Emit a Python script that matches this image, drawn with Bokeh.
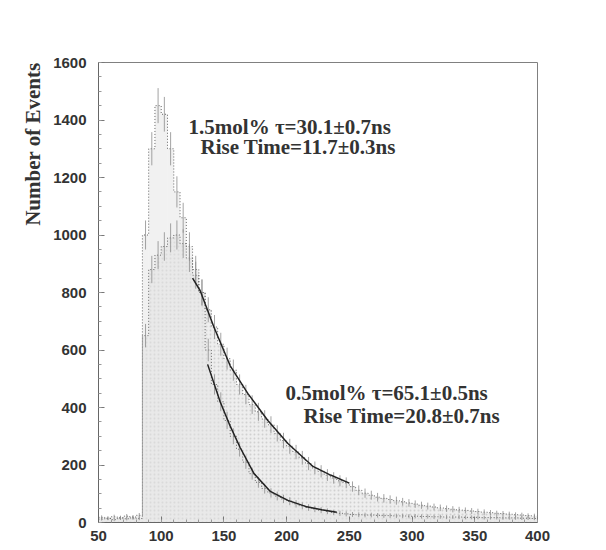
import numpy as np
from bokeh.plotting import figure
from bokeh.models import FixedTicker, Label, Title
from bokeh.embed import file_html
from bokeh.resources import INLINE

# ---- data ----
bin_left = list(range(50, 400, 5))   # 5 ns bins, 50..400
bin_width = 5

# 1.5 mol% histogram (fast decay)
counts_15 = [18, 15, 20, 17, 22, 19, 25,
             1000, 1300, 1450, 1420, 1300, 1150, 1060, 960, 880, 800, 600, 480, 420,
             355, 300, 255, 210, 170, 140, 118, 103, 92, 82, 74, 65, 58, 52, 47, 43,
             39, 35, 32, 30,
             28, 27, 26, 26, 25, 24, 24, 23, 23, 22,
             22, 21, 21, 20, 20, 19, 19, 19, 18, 18, 18, 17, 17, 17, 16, 16, 16, 15, 15, 14]

# 0.5 mol% histogram (slow decay)
counts_05 = [12, 14, 10, 15, 13, 16, 14,
             650, 880, 930, 960, 990, 1000, 970, 920, 860, 800, 740, 680, 620,
             570, 530, 480, 445, 410, 385, 360, 340, 310, 285, 265, 245, 225, 205, 190, 178,
             165, 155, 145, 138,
             125, 112, 102, 95, 88, 84, 80, 76, 72, 68,
             64, 60, 57, 54, 51, 48, 46, 44, 42, 40, 38, 36, 34, 32, 31, 29, 27, 26, 24, 23]

# fitted curves, points
fit05_x = [125, 131, 142, 155, 169, 185, 201, 221, 235, 250]
fit05_y = [850, 807, 680, 545, 449, 355, 275, 195, 165, 137]
fit15_x = [137, 147, 155, 163, 174, 187, 201, 215, 228, 240]
fit15_y = [550, 420, 335, 260, 170, 108, 77, 56, 44, 36]

ERR_SCALE = 1.6

x_ticks = [50, 100, 150, 200, 250, 300, 350, 400]
y_ticks = [0, 200, 400, 600, 800, 1000, 1200, 1400, 1600]

y_title = "Number of Events"
label_15 = ["1.5mol% \u03c4=30.1\u00b10.7ns", "Rise Time=11.7\u00b10.3ns"]
label_05 = ["0.5mol% \u03c4=65.1\u00b10.5ns", "Rise Time=20.8\u00b10.7ns"]

# ---- figure ----
p = figure(width=606, height=550, x_range=(50, 400), y_range=(0, 1600),
           output_backend="svg", toolbar_location=None,
           min_border_left=98, min_border_right=69, min_border_top=62, min_border_bottom=28)
p.xgrid.visible = False
p.ygrid.visible = False
p.outline_line_color = "#808080"
p.outline_line_width = 1
p.background_fill_color = "white"
p.border_fill_color = "white"

left = np.array(bin_left, dtype=float)
right = left + bin_width
c15 = np.array(counts_15, dtype=float)
c05 = np.array(counts_05, dtype=float)

# fills
p.quad(left=left, right=right, bottom=0, top=c05, fill_color="#dedede", fill_alpha=0.5,
       line_color=None, hatch_pattern="dot", hatch_color="#8a8a8a", hatch_alpha=0.3,
       hatch_scale=4, hatch_weight=0.8)
p.quad(left=left, right=right, bottom=0, top=c15, fill_color="#e4e4e4", fill_alpha=0.5,
       line_color=None)

# dotted step outlines
edges = np.append(left, right[-1])
p.step(x=edges, y=np.append(c05, c05[-1]), mode="after", line_color="#666666",
       line_width=1, line_dash="1 2")
p.step(x=edges, y=np.append(c15, c15[-1]), mode="after", line_color="#666666",
       line_width=1, line_dash="1 2")

# error bars
centers = left + bin_width / 2
for c in (c05, c15):
    err = ERR_SCALE * np.sqrt(c)
    p.segment(x0=centers, y0=c - err, x1=centers, y1=c + err, line_color="#8c8c8c",
              line_width=0.8)

# fit curves
p.line(fit05_x, fit05_y, line_color="#222222", line_width=1.5)
p.line(fit15_x, fit15_y, line_color="#222222", line_width=1.5)

# axes
for ax in (p.xaxis[0], p.yaxis[0]):
    ax.major_tick_in = 6
    ax.major_tick_out = 0
    ax.minor_tick_in = 3
    ax.minor_tick_out = 0
    ax.axis_line_color = "#666666"
    ax.major_tick_line_color = "#777777"
    ax.minor_tick_line_color = "#999999"
    ax.major_label_text_font = "Liberation Sans"
    ax.major_label_text_font_style = "bold"
    ax.major_label_text_font_size = "15px"
    ax.major_label_text_color = "#333333"

p.xaxis[0].ticker = FixedTicker(ticks=x_ticks, minor_ticks=list(range(50, 401, 10)))
p.yaxis[0].ticker = FixedTicker(ticks=y_ticks, minor_ticks=list(range(0, 1601, 50)))
p.xaxis[0].major_label_standoff = 8
p.yaxis[0].major_label_standoff = 12

# y title near the top of the axis, as in the reference
p.add_layout(Title(text=y_title, align="right", text_font="Liberation Serif",
                   text_font_style="bold", text_font_size="21px",
                   text_color="#333333", standoff=12), "left")

def add_text(x, y, s):
    p.add_layout(Label(x=x, y=y, text=s, text_font="Liberation Serif",
                       text_font_style="bold", text_font_size="21px",
                       text_color="#333333", text_align="left", text_baseline="middle"))

add_text(121.8, 1377, label_15[0])
add_text(131.3, 1305, label_15[1])
add_text(199, 452, label_05[0])
add_text(213.5, 370, label_05[1])

open("out.html", "w").write(file_html(p, INLINE))
